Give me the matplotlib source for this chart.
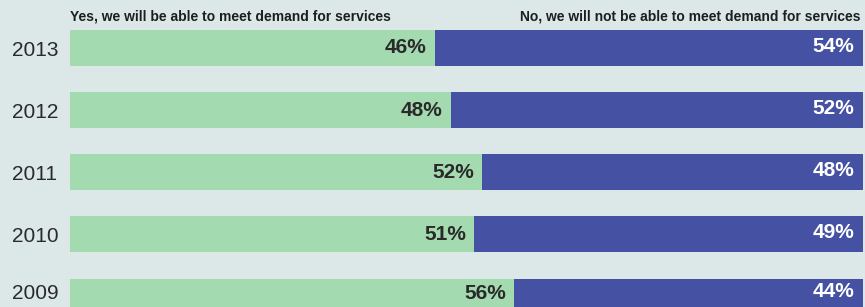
import matplotlib.pyplot as plt

years = ['2013', '2012', '2011', '2010', '2009']
yes_pct = [46, 48, 52, 51, 56]
no_pct = [54, 52, 48, 49, 44]

yes_label = 'Yes, we will be able to meet demand for services'
no_label = 'No, we will not be able to meet demand for services'

green = '#a4daaf'
blue = '#4551a2'
bg = '#dbe8e7'

plt.rcParams['font.family'] = ['Liberation Sans', 'DejaVu Sans']

fig = plt.figure(figsize=(8.65, 3.07), dpi=100)
fig.patch.set_facecolor(bg)
ax = fig.add_axes([0, 0, 1, 1])
ax.set_facecolor(bg)

pos = list(range(len(years)))
ax.barh(pos, yes_pct, height=0.565, color=green)
ax.barh(pos, no_pct, left=yes_pct, height=0.565, color=blue)

for i in pos:
    dy = -0.04 if i == len(years) - 1 else 0.0
    ax.text(yes_pct[i] - 1.0, i + dy, f'{yes_pct[i]}%', ha='right', va='center',
            fontsize=15, fontweight='bold', color='#2a2a2a')
    ax.text(98.9, i + dy - 0.03, f'{no_pct[i]}%', ha='right', va='center',
            fontsize=15, fontweight='bold', color='white')
    ax.text(-7.35, i + 0.04 + 2 * dy, years[i], ha='left', va='center', fontsize=15, color='#2a2a2a')

ax.text(0, -0.40, yes_label, ha='left', va='bottom', fontsize=10, fontweight='bold', color='#1e1e1e')
ax.text(99.7, -0.40, no_label, ha='right', va='bottom', fontsize=10, fontweight='bold', color='#1e1e1e')

ax.set_xlim(-8.83, 100.25)
ax.set_ylim(4.177, -0.774)
ax.axis('off')

fig.savefig('out.png', dpi=100, facecolor=bg)
